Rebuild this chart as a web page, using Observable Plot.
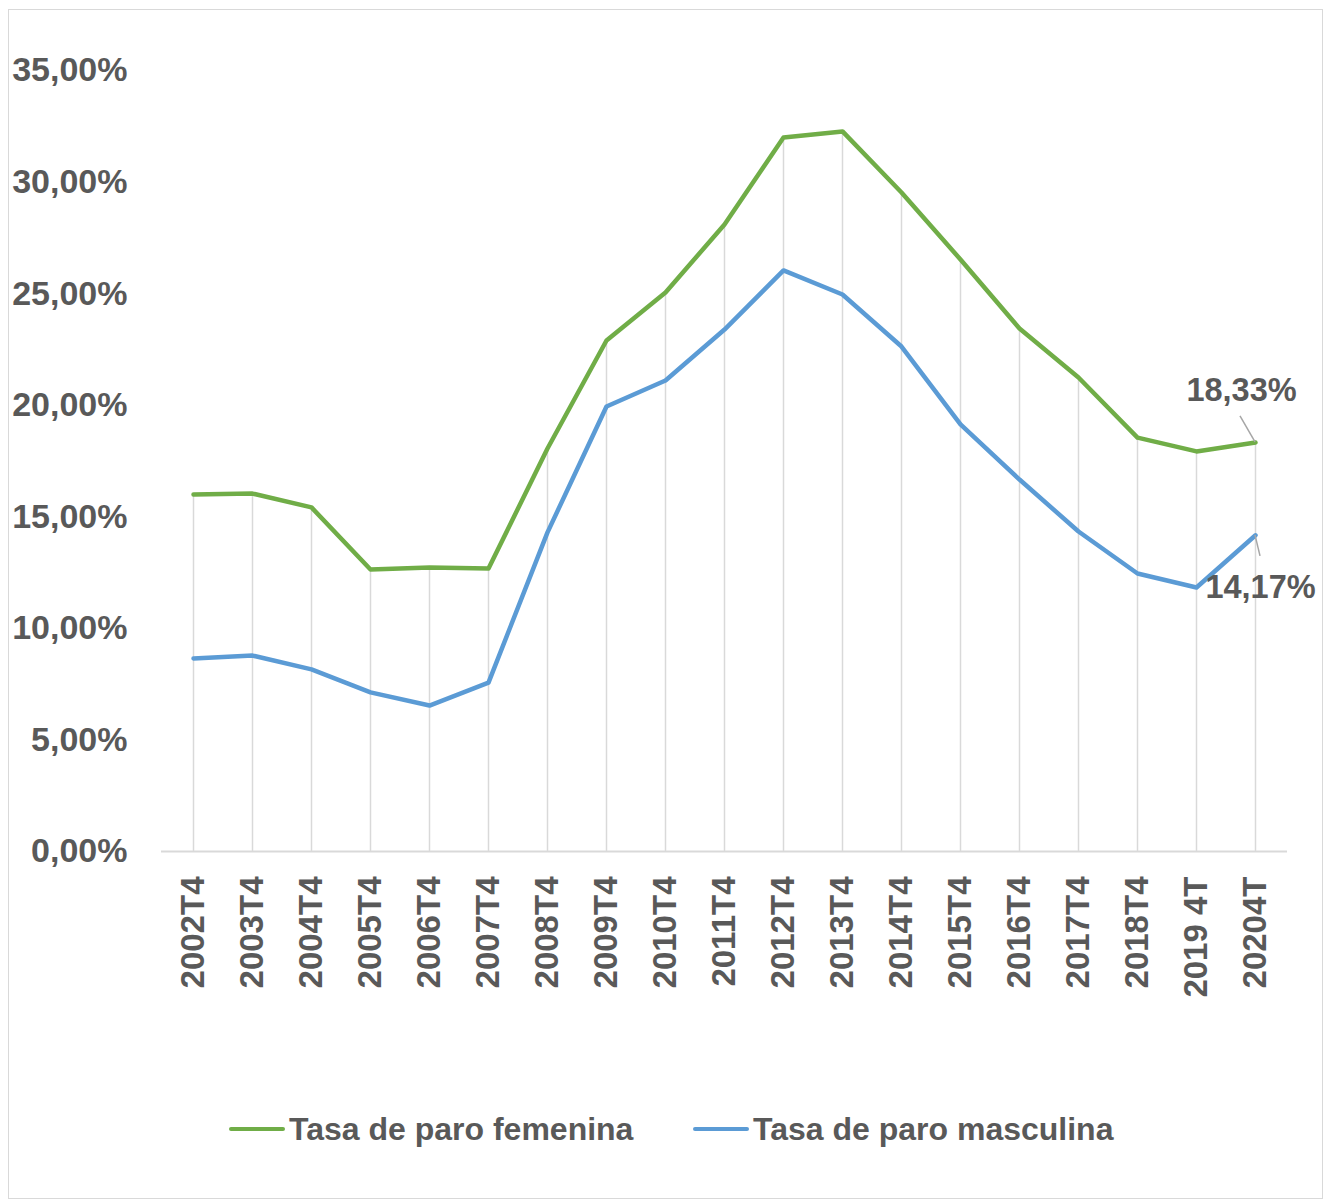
<!DOCTYPE html>
<html>
<head>
<meta charset="utf-8">
<script src="https://cdn.jsdelivr.net/npm/d3@7"></script>
<script src="https://cdn.jsdelivr.net/npm/@observablehq/plot@0.6"></script>
<style>
  html, body { margin: 0; padding: 0; background: #fff; }
  #wrap { position: relative; width: 1328px; height: 1203px; font-family: "Liberation Sans", Arial, sans-serif; }
  #frame { position: absolute; left: 8px; top: 9px; width: 1315px; height: 1190px; border: 1.5px solid #D9D9D9; box-sizing: border-box; }
  #chart { position: absolute; left: 0; top: 0; }
  .legend { position: absolute; top: 1107px; left: 0; width: 1328px; height: 44px; color: #595959; font-weight: bold; font-size: 32px; }
  .item { position: absolute; top: 0; display: flex; align-items: center; height: 44px; white-space: nowrap; }
  .sw { width: 56px; height: 4.5px; border-radius: 2px; margin-right: 4px; }
</style>
</head>
<body>
<div id="wrap">
  <div id="frame"></div>
  <div id="chart"></div>
  <div class="legend" id="legend"></div>
</div>
<script>
const categories = ["2002T4","2003T4","2004T4","2005T4","2006T4","2007T4","2008T4","2009T4","2010T4","2011T4","2012T4","2013T4","2014T4","2015T4","2016T4","2017T4","2018T4","2019 4T","20204T"];
const femenina = [16.00,16.04,15.42,12.64,12.73,12.68,18.06,22.90,25.05,28.10,32.00,32.27,29.53,26.53,23.44,21.24,18.55,17.93,18.33];
const masculina = [8.65,8.78,8.16,7.13,6.54,7.57,14.30,19.94,21.11,23.39,26.04,24.96,22.63,19.14,16.67,14.34,12.46,11.83,14.17];
const seriesNames = ["Tasa de paro femenina", "Tasa de paro masculina"];
const seriesColors = ["#70AD47", "#5B9BD5"];
const yTicks = [0, 5, 10, 15, 20, 25, 30, 35];

const rows = [];
categories.forEach((c, i) => {
  rows.push({cat: c, serie: seriesNames[0], v: femenina[i]});
  rows.push({cat: c, serie: seriesNames[1], v: masculina[i]});
});
const drops = categories.map((c, i) => ({cat: c, top: Math.max(femenina[i], masculina[i])}));
const fmt = d => d.toFixed(2).replace(".", ",") + "%";
const last = categories.length - 1;
const labels = [
  {cat: categories[last], v: femenina[last], dx: -14, dy: -52, lx2: -15, ly2: -26},
  {cat: categories[last], v: masculina[last], dx: 5, dy: 52, lx2: 5, ly2: 21}
];

function leaders(index, scales) {
  const g = d3.create("svg:g");
  for (const d of labels) {
    const x = scales.x(d.cat), y = scales.y(d.v);
    g.append("line")
      .attr("x1", x).attr("y1", y)
      .attr("x2", x + d.lx2).attr("y2", y + d.ly2)
      .attr("stroke", "#A6A6A6").attr("stroke-width", 1.5);
  }
  return g.node();
}

const plot = Plot.plot({
  width: 1328,
  height: 1060,
  marginTop: 70,
  marginLeft: 161,
  marginRight: 41,
  marginBottom: 209,
  style: {background: "transparent", fontFamily: "'Liberation Sans', Arial, sans-serif", color: "#595959", overflow: "visible"},
  x: {type: "point", domain: categories, padding: 0.5, label: null},
  y: {domain: [0, 35], label: null},
  color: {domain: seriesNames, range: seriesColors},
  marks: [
    Plot.ruleX(drops, {x: "cat", y1: 0, y2: "top", stroke: "#D9D9D9", strokeWidth: 1.5}),
    Plot.ruleY([0], {stroke: "#D9D9D9", strokeWidth: 2}),
    Plot.axisY({ticks: yTicks, tickFormat: fmt, tickSize: 0, tickPadding: 34, fontSize: 34, fontWeight: "bold", fill: "#595959", label: null}),
    Plot.axisX({tickSize: 0, tickPadding: 25, tickRotate: -90, fontSize: 33, fontWeight: "bold", fill: "#595959", label: null}),
    Plot.line(rows, {x: "cat", y: "v", z: "serie", stroke: "serie", strokeWidth: 4.5, strokeLinejoin: "round", strokeLinecap: "round"}),
    leaders,
    Plot.text([labels[0]], {x: "cat", y: "v", dx: labels[0].dx, dy: labels[0].dy, text: d => fmt(d.v), fontSize: 32.5, fontWeight: "bold", fill: "#595959"}),
    Plot.text([labels[1]], {x: "cat", y: "v", dx: labels[1].dx, dy: labels[1].dy, text: d => fmt(d.v), fontSize: 32.5, fontWeight: "bold", fill: "#595959"})
  ]
});
document.getElementById("chart").appendChild(plot);

const legend = document.getElementById("legend");
const legendX = [229, 693];
seriesNames.forEach((name, i) => {
  const item = document.createElement("div");
  item.className = "item";
  item.style.left = legendX[i] + "px";
  const sw = document.createElement("div");
  sw.className = "sw";
  sw.style.background = seriesColors[i];
  const t = document.createElement("span");
  t.textContent = name;
  item.appendChild(sw);
  item.appendChild(t);
  legend.appendChild(item);
});
</script>
</body>
</html>
